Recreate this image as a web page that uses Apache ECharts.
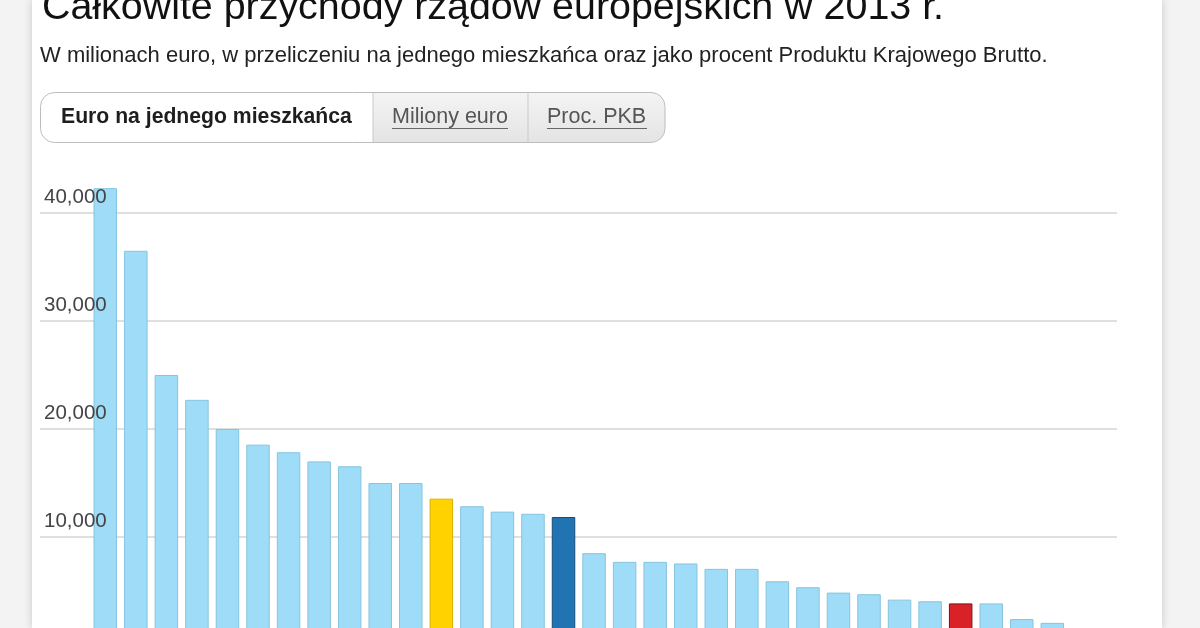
<!DOCTYPE html>
<html>
<head>
<meta charset="utf-8">
<script src="https://cdn.jsdelivr.net/npm/echarts@6/dist/echarts.min.js"></script>
<style>
html,body{margin:0;padding:0;background:#f3f3f3;width:1200px;height:628px;overflow:hidden;}
#card{position:absolute;left:32px;top:0;width:1130px;height:628px;background:#fff;box-shadow:0 0 8px rgba(0,0,0,0.18);}
#chart{position:absolute;left:0;top:0;width:1200px;height:700px;}
</style>
</head>
<body>
<div id="card"></div>
<div id="chart"></div>
<script>
// ---- data ----
const titleText = 'Całkowite przychody rządów europejskich w 2013 r.';
const subtitleText = 'W milionach euro, w przeliczeniu na jednego mieszkańca oraz jako procent Produktu Krajowego Brutto.';
const tabLabels = ['Euro na jednego mieszkańca', 'Miliony euro', 'Proc. PKB'];
const categories = ['1','2','3','4','5','6','7','8','9','10','11','12','13','14','15','16',
                    '17','18','19','20','21','22','23','24','25','26','27','28','29','30','31','32'];
const values = [42300, 36500, 25000, 22700, 20000, 18550, 17850, 17000, 16550, 15000, 15000,
                13550, 12850, 12350, 12150, 11850, 8500, 7700, 7700, 7550, 7050, 7050,
                5900, 5350, 4850, 4700, 4200, 4050, 3850, 3850, 2400, 2050];
const yTicks = [0, 10000, 20000, 30000, 40000];
const yellowIndex = 11, darkIndex = 15, redIndex = 28;

// ---- styles ----
const FONT = '"Liberation Sans", Arial, sans-serif';
const base = {color: '#9fdcf8', borderColor: '#86c4df'};
const styleFor = i => i === yellowIndex ? {color: '#ffd200', borderColor: '#d9b300'}
  : i === darkIndex ? {color: '#2273b1', borderColor: '#154c7c'}
  : i === redIndex ? {color: '#d92227', borderColor: '#7a1517'} : base;

const fmt = v => String(v).replace(/\B(?=(\d{3})+(?!\d))/g, ',');

const chart = echarts.init(document.getElementById('chart'), null, {renderer: 'canvas'});

const btnTop = 92, btnH = 50, btnL = 40.5, btnR = 665, d1 = 373, d2 = 528, rad = 14;
const grayFill = new echarts.graphic.LinearGradient(0, 0, 0, 1, [
  {offset: 0, color: '#f4f4f4'}, {offset: 1, color: '#e4e4e4'}]);

const yMin = yTicks[0], yMax = yTicks[yTicks.length - 1], yStep = yTicks[1] - yTicks[0];

chart.setOption({
  backgroundColor: 'transparent',
  animation: false,
  graphic: [
    {type: 'text', style: {text: titleText, x: 42, y: 8, font: '39.4px ' + FONT, fill: '#111', textVerticalAlign: 'middle'}},
    {type: 'text', style: {text: subtitleText, x: 40, y: 56, font: '22px ' + FONT, fill: '#222', textVerticalAlign: 'middle'}},
    {type: 'rect', shape: {x: btnL, y: btnTop, width: btnR - btnL, height: btnH, r: rad}, style: {fill: '#fff'}},
    {type: 'rect', shape: {x: d1, y: btnTop, width: d2 - d1, height: btnH}, style: {fill: grayFill}},
    {type: 'rect', shape: {x: d2, y: btnTop, width: btnR - d2, height: btnH, r: [0, rad, rad, 0]}, style: {fill: grayFill}},
    {type: 'line', shape: {x1: d1, y1: btnTop, x2: d1, y2: btnTop + btnH}, style: {stroke: '#c9c9c9', lineWidth: 1}},
    {type: 'line', shape: {x1: d2, y1: btnTop, x2: d2, y2: btnTop + btnH}, style: {stroke: '#c9c9c9', lineWidth: 1}},
    {type: 'rect', shape: {x: btnL, y: btnTop + 0.5, width: btnR - btnL, height: btnH, r: rad}, style: {fill: 'none', stroke: '#bcbcbc', lineWidth: 1}},
    {type: 'text', style: {text: tabLabels[0], x: 61, y: 117, font: 'bold 21.2px ' + FONT, fill: '#1e1e1e', textVerticalAlign: 'middle'}},
    {type: 'text', style: {text: tabLabels[1], x: 392, y: 117, font: '21.5px ' + FONT, fill: '#555', textVerticalAlign: 'middle'}},
    {type: 'line', shape: {x1: 392, y1: 128.5, x2: 508, y2: 128.5}, style: {stroke: '#666', lineWidth: 1}},
    {type: 'text', style: {text: tabLabels[2], x: 547, y: 117, font: '21.5px ' + FONT, fill: '#555', textVerticalAlign: 'middle'}},
    {type: 'line', shape: {x1: 547, y1: 128.5, x2: 647, y2: 128.5}, style: {stroke: '#666', lineWidth: 1}}
  ],
  grid: [
    {left: 40, top: 213, width: 1077, height: 432},
    {left: 90, top: 105, width: 977.6, height: 540},
    {left: 40, top: 213, width: 1077, height: 432}
  ],
  xAxis: [
    {gridIndex: 0, type: 'value', show: false, min: 0, max: 1},
    {gridIndex: 1, type: 'category', data: categories, show: false},
    {gridIndex: 2, type: 'value', show: false, min: 0, max: 1}
  ],
  yAxis: [
    {gridIndex: 0, type: 'value', min: yMin, max: yMax, interval: yStep, z: 0,
     axisLine: {show: false}, axisTick: {show: false}, axisLabel: {show: false},
     splitLine: {lineStyle: {color: '#d4d4d4', width: 1.5}}},
    {gridIndex: 1, type: 'value', min: 0, max: 50000, show: false, splitLine: {show: false}},
    {gridIndex: 2, type: 'value', min: yMin, max: yMax, interval: yStep, z: 10,
     axisLine: {show: false}, axisTick: {show: false}, splitLine: {show: false},
     axisLabel: {inside: true, margin: 4, color: '#444', fontFamily: FONT, fontSize: 20.5,
       align: 'left', verticalAlign: 'bottom', padding: [0, 0, 5, 0],
       formatter: v => v === 0 ? '' : fmt(v)}}
  ],
  series: [{
    type: 'bar', xAxisIndex: 1, yAxisIndex: 1, barWidth: 23.5,
    data: values.map((v, i) => ({value: v, itemStyle: Object.assign({borderWidth: 1}, styleFor(i))})),
    z: 3
  }]
});
</script>
</body>
</html>
